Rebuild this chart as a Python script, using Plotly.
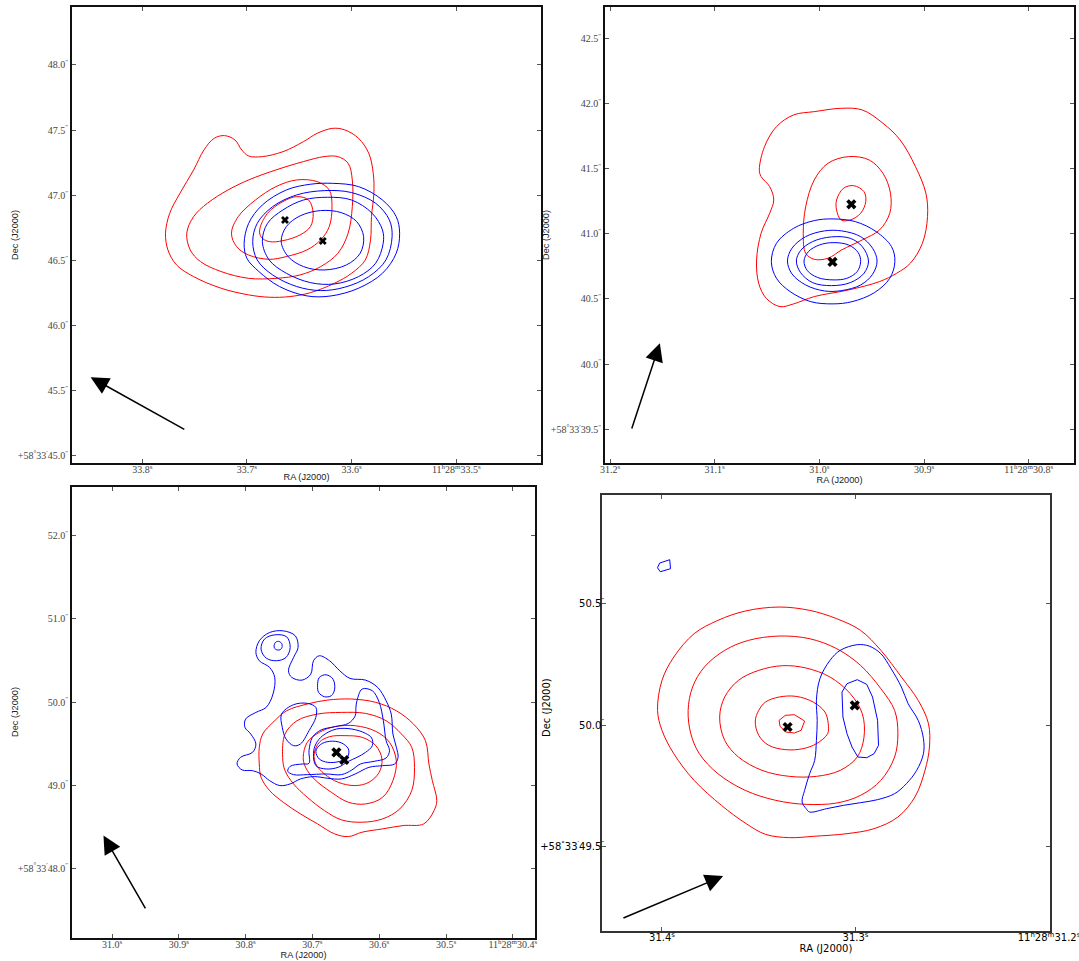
import plotly.graph_objects as go

# ---------------- Panel 1 (RA seconds of 11h28m, Dec arcsec of +58d33') ----------------
P1_RED_1 = [(33.7778,46.709),(33.7738,46.862),(33.7640,47.016),(33.7509,47.195),(33.7411,47.348),
            (33.7312,47.438),(33.7214,47.458),(33.7115,47.425),(33.7050,47.348),(33.6984,47.302),
            (33.6853,47.297),(33.6656,47.335),(33.6460,47.412),(33.6329,47.476),(33.6181,47.514),
            (33.6066,47.502),(33.5935,47.438),(33.5837,47.323),(33.5794,47.169),(33.5788,47.016),
            (33.5811,46.837),(33.5820,46.658),(33.5870,46.504),(33.6001,46.402),(33.6165,46.325),
            (33.6394,46.253),(33.6591,46.223),(33.6788,46.218),(33.6984,46.236),(33.7247,46.287),
            (33.7509,46.376),(33.7673,46.466),(33.7755,46.581)]
P1_RED_2 = [(33.7575,46.709),(33.7509,46.837),(33.7378,46.939),(33.7181,47.041),(33.6984,47.118),
            (33.6722,47.195),(33.6460,47.259),(33.6263,47.297),(33.6132,47.297),(33.6034,47.246),
            (33.5994,47.118),(33.5994,46.913),(33.6034,46.709),(33.6132,46.555),(33.6296,46.453),
            (33.6493,46.389),(33.6722,46.363),(33.6984,46.363),(33.7247,46.415),(33.7443,46.491),
            (33.7542,46.581)]
P1_RED_3 = [(33.7148,46.709),(33.7083,46.837),(33.6919,46.964),(33.6722,47.067),(33.6525,47.118),
            (33.6329,47.105),(33.6214,47.041),(33.6188,46.913),(33.6214,46.760),(33.6296,46.658),
            (33.6427,46.581),(33.6624,46.530),(33.6788,46.509),(33.6984,46.542),(33.7099,46.606)]
P1_RED_4 = [(33.6879,46.734),(33.6804,46.862),(33.6656,46.952),(33.6525,46.990),(33.6411,46.964),
            (33.6368,46.862),(33.6394,46.760),(33.6493,46.696),(33.6656,46.652),(33.6788,46.645),
            (33.6863,46.678)]
P1_BLUE_1 = [(33.7027,46.632),(33.6984,46.785),(33.6853,46.926),(33.6624,47.041),(33.6394,47.085),
             (33.6181,47.092),(33.5935,47.067),(33.5706,46.964),(33.5575,46.837),(33.5542,46.709),
             (33.5575,46.555),(33.5706,46.402),(33.5935,46.287),(33.6197,46.228),(33.6427,46.228),
             (33.6689,46.300),(33.6886,46.415),(33.7001,46.517)]
P1_BLUE_2 = [(33.6945,46.645),(33.6902,46.785),(33.6755,46.913),(33.6525,47.003),(33.6263,47.036),
             (33.6001,47.021),(33.5771,46.939),(33.5640,46.811),(33.5614,46.683),(33.5673,46.504),
             (33.5837,46.376),(33.6066,46.295),(33.6296,46.269),(33.6525,46.300),(33.6755,46.389),
             (33.6902,46.504)]
P1_BLUE_3 = [(33.6853,46.645),(33.6804,46.785),(33.6656,46.888),(33.6460,46.964),(33.6230,46.985),
             (33.6001,46.964),(33.5804,46.862),(33.5706,46.734),(33.5699,46.632),(33.5771,46.479),
             (33.5935,46.376),(33.6165,46.320),(33.6394,46.330),(33.6624,46.402),(33.6788,46.504)]
P1_BLUE_4 = [(33.6673,46.645),(33.6624,46.760),(33.6493,46.842),(33.6296,46.883),(33.6099,46.867),
             (33.5952,46.798),(33.5886,46.683),(33.5919,46.555),(33.6050,46.466),(33.6263,46.427),
             (33.6460,46.453),(33.6607,46.530)]
P1_SOURCES = [(33.6637,46.811),(33.6276,46.650)]
P1_ARROW = [(33.7584,45.197),(33.8493,45.604)]   # tail, head
P1_RA_TICKS = [33.8, 33.7, 33.6, 33.5]
P1_RA_TEXT = ["33.8<sup>s</sup>", "33.7<sup>s</sup>", "33.6<sup>s</sup>", "11<sup>h</sup>28<sup>m</sup>33.5<sup>s</sup>"]
P1_DEC_TICKS = [45.0, 45.5, 46.0, 46.5, 47.0, 47.5, 48.0]
P1_DEC_TEXT = ["+58<sup>°</sup>33<sup>′</sup>45.0<sup>″</sup>", "45.5<sup>″</sup>", "46.0<sup>″</sup>",
               "46.5<sup>″</sup>", "47.0<sup>″</sup>", "47.5<sup>″</sup>", "48.0<sup>″</sup>"]

# ---------------- Panel 2 ----------------
P2_RED_1 = [(31.0574,41.490),(31.0524,41.669),(31.0410,41.822),(31.0246,41.912),(31.0049,41.937),
            (30.9787,41.963),(30.9590,41.950),(30.9393,41.848),(30.9229,41.720),(30.9082,41.515),
            (30.8983,41.311),(30.8967,41.132),(30.9016,40.927),(30.9131,40.774),(30.9262,40.697),
            (30.9426,40.633),(30.9721,40.569),(31.0049,40.518),(31.0246,40.462),(31.0377,40.441),
            (31.0508,40.505),(31.0580,40.620),(31.0600,40.799),(31.0557,41.004),(31.0475,41.157),
            (31.0436,41.259),(31.0475,41.362),(31.0557,41.439)]
P2_RED_2 = [(31.0154,41.004),(31.0131,41.208),(31.0049,41.413),(30.9918,41.541),(30.9721,41.592),
            (30.9524,41.566),(30.9393,41.464),(30.9321,41.311),(30.9328,41.157),(30.9426,41.029),
            (30.9590,40.953),(30.9787,40.876),(30.9918,40.812),(31.0049,40.804),(31.0131,40.850)]
P2_RED_3 = [(30.9836,41.259),(30.9770,41.349),(30.9672,41.369),(30.9574,41.323),(30.9557,41.247),
            (30.9606,41.157),(30.9705,41.106),(30.9793,41.106),(30.9836,41.183)]
P2_BLUE_1 = [(31.0459,40.786),(31.0410,40.927),(31.0246,41.042),(31.0049,41.101),(30.9869,41.114),
             (30.9656,41.093),(30.9459,41.017),(30.9311,40.901),(30.9279,40.786),(30.9328,40.658),
             (30.9475,40.548),(30.9688,40.479),(30.9869,40.462),(31.0082,40.479),(31.0279,40.556),
             (31.0410,40.658)]
P2_BLUE_2 = [(31.0305,40.791),(31.0262,40.889),(31.0131,40.978),(30.9951,41.022),(30.9787,41.022),
             (30.9606,40.978),(30.9492,40.889),(30.9449,40.791),(30.9492,40.689),(30.9606,40.607),
             (30.9787,40.564),(30.9951,40.561),(31.0131,40.607),(31.0262,40.692)]
P2_BLUE_3 = [(31.0220,40.791),(31.0180,40.871),(31.0065,40.940),(30.9885,40.976),(30.9705,40.965),
             (30.9590,40.901),(30.9531,40.791),(30.9574,40.697),(30.9705,40.625),(30.9885,40.602),
             (31.0065,40.625),(31.0180,40.702)]
P2_BLUE_4 = [(31.0147,40.791),(31.0105,40.863),(31.0000,40.914),(30.9869,40.932),(30.9721,40.914),
             (30.9629,40.855),(30.9606,40.786),(30.9639,40.710),(30.9738,40.658),(30.9869,40.646),
             (31.0016,40.664),(31.0115,40.717)]
P2_SOURCES = [(30.9695,41.226),(30.9875,40.784)]
P2_ARROW = [(31.1797,39.495),(31.1524,40.160)]
P2_RA_TICKS = [31.2, 31.1, 31.0, 30.9, 30.8]
P2_RA_TEXT = ["31.2<sup>s</sup>", "31.1<sup>s</sup>", "31.0<sup>s</sup>", "30.9<sup>s</sup>",
              "11<sup>h</sup>28<sup>m</sup>30.8<sup>s</sup>"]
P2_DEC_TICKS = [39.5, 40.0, 40.5, 41.0, 41.5, 42.0, 42.5]
P2_DEC_TEXT = ["+58<sup>°</sup>33<sup>′</sup>39.5<sup>″</sup>", "40.0<sup>″</sup>", "40.5<sup>″</sup>",
               "41.0<sup>″</sup>", "41.5<sup>″</sup>", "42.0<sup>″</sup>", "42.5<sup>″</sup>"]

# ---------------- Panel 3 ----------------
P3_RED_1 = [(30.7795,49.455),(30.7744,49.615),(30.7590,49.755),(30.7385,49.895),(30.7077,49.976),
            (30.6769,50.024),(30.6410,50.036),(30.6051,49.996),(30.5744,49.895),(30.5487,49.735),
            (30.5308,49.535),(30.5256,49.254),(30.5205,49.054),(30.5138,48.813),(30.5179,48.693),
            (30.5333,48.533),(30.5641,48.513),(30.5949,48.473),(30.6256,48.433),(30.6461,48.380),
            (30.6667,48.412),(30.6923,48.533),(30.7179,48.653),(30.7436,48.793),(30.7641,48.934),
            (30.7769,49.094),(30.7795,49.254)]
P3_RED_2 = [(30.7446,49.334),(30.7410,49.615),(30.7231,49.775),(30.6923,49.855),(30.6564,49.875),
            (30.6205,49.863),(30.5897,49.775),(30.5667,49.615),(30.5513,49.455),(30.5472,49.214),
            (30.5513,48.934),(30.5692,48.713),(30.5949,48.593),(30.6256,48.553),(30.6564,48.581),
            (30.6820,48.693),(30.7077,48.853),(30.7282,49.014),(30.7410,49.174)]
P3_RED_3 = [(30.7138,49.334),(30.7077,49.515),(30.6897,49.635),(30.6667,49.703),(30.6359,49.715),
            (30.6051,49.647),(30.5846,49.515),(30.5744,49.294),(30.5795,49.054),(30.5949,48.853),
            (30.6205,48.773),(30.6461,48.793),(30.6718,48.914),(30.6974,49.074),(30.7103,49.214)]
P3_RED_4 = [(30.6974,49.374),(30.6897,49.515),(30.6743,49.583),(30.6513,49.595),(30.6256,49.575),
            (30.6051,49.475),(30.5959,49.314),(30.6000,49.154),(30.6154,49.034),(30.6359,48.994),
            (30.6615,49.034),(30.6820,49.134),(30.6949,49.254)]
P3_BLUE_1 = [(30.7846,50.597),(30.7795,50.737),(30.7641,50.837),(30.7436,50.857),(30.7256,50.797),
             (30.7215,50.657),(30.7282,50.537),(30.7359,50.376),(30.7308,50.296),(30.7154,50.264),
             (30.7025,50.336),(30.6984,50.497),(30.6897,50.557),(30.6743,50.497),(30.6590,50.376),
             (30.6436,50.284),(30.6205,50.264),(30.6023,50.176),(30.5897,50.016),(30.5820,49.855),
             (30.5795,49.615),(30.5743,49.455),(30.5718,49.334),(30.5769,49.254),(30.5949,49.234),
             (30.6154,49.214),(30.6359,49.134),(30.6564,49.074),(30.6769,49.082),(30.6974,49.102),
             (30.7179,49.074),(30.7333,49.014),(30.7487,48.994),(30.7641,49.054),(30.7769,49.134),
             (30.7897,49.174),(30.8051,49.182),(30.8128,49.254),(30.8077,49.334),(30.7897,49.394),
             (30.7846,49.495),(30.7923,49.615),(30.8010,49.695),(30.8000,49.795),(30.7846,49.875),
             (30.7692,49.936),(30.7590,50.096),(30.7564,50.296),(30.7641,50.417),(30.7795,50.497)]
P3_BLUE_2 = [(30.7769,50.637),(30.7718,50.757),(30.7564,50.809),(30.7385,50.785),(30.7333,50.657),
             (30.7395,50.537),(30.7538,50.497),(30.7692,50.529)]
P3_BLUE_3 = [(30.7574,50.677),(30.7549,50.721),(30.7497,50.729),(30.7456,50.697),(30.7462,50.645),
             (30.7513,50.625),(30.7564,50.645)]
P3_BLUE_4 = [(30.6923,50.196),(30.6897,50.296),(30.6795,50.328),(30.6692,50.276),(30.6667,50.156),
             (30.6718,50.076),(30.6820,50.064),(30.6907,50.116)]
P3_BLUE_5 = [(30.7462,49.855),(30.7282,49.968),(30.7077,49.984),(30.6949,49.936),(30.6949,49.815),
             (30.7051,49.655),(30.7179,49.495),(30.7282,49.475),(30.7395,49.555),(30.7451,49.695)]
P3_BLUE_6 = [(30.6333,50.016),(30.6256,50.156),(30.6103,50.136),(30.6000,49.996),(30.5938,49.775),
             (30.5897,49.535),(30.5846,49.415),(30.5897,49.326),(30.6077,49.286),(30.6282,49.254),
             (30.6410,49.182),(30.6564,49.126),(30.6795,49.134),(30.7077,49.126),(30.7282,49.126),
             (30.7369,49.166),(30.7333,49.226),(30.7154,49.254),(30.7051,49.262),(30.7051,49.415),
             (30.7000,49.575),(30.6872,49.663),(30.6667,49.703),(30.6461,49.743),(30.6359,49.835),
             (30.6349,49.936)]
P3_BLUE_7 = [(30.6948,49.495),(30.6846,49.595),(30.6641,49.675),(30.6410,49.675),(30.6205,49.623),
             (30.6113,49.567),(30.6103,49.475),(30.6205,49.394),(30.6333,49.334),(30.6461,49.286),
             (30.6615,49.214),(30.6795,49.194),(30.6948,49.234),(30.6984,49.382)]
P3_BLUE_8 = [(30.6948,49.406),(30.6882,49.487),(30.6743,49.527),(30.6574,49.511),(30.6461,49.435),
             (30.6472,49.342),(30.6590,49.286),(30.6769,49.274),(30.6897,49.314)]
P3_SOURCES = [(30.6641,49.394),(30.6523,49.302)]
P3_ARROW = [(30.9487,47.499),(31.0128,48.392)]
P3_RA_TICKS = [31.0, 30.9, 30.8, 30.7, 30.6, 30.5, 30.4]
P3_RA_TEXT = ["31.0<sup>s</sup>", "30.9<sup>s</sup>", "30.8<sup>s</sup>", "30.7<sup>s</sup>",
              "30.6<sup>s</sup>", "30.5<sup>s</sup>", "11<sup>h</sup>28<sup>m</sup>30.4<sup>s</sup>"]
P3_DEC_TICKS = [48.0, 49.0, 50.0, 51.0, 52.0]
P3_DEC_TEXT = ["+58<sup>°</sup>33<sup>′</sup>48.0<sup>″</sup>", "49.0<sup>″</sup>", "50.0<sup>″</sup>",
               "51.0<sup>″</sup>", "52.0<sup>″</sup>"]

# ---------------- Panel 4 ----------------
P4_RED_1 = [(31.4023,50.0604),(31.4000,50.1840),(31.3939,50.2802),(31.3834,50.3763),(31.3711,50.4313),
            (31.3570,50.4697),(31.3395,50.4862),(31.3237,50.4725),(31.3097,50.4381),(31.2974,50.3901),
            (31.2869,50.3077),(31.2763,50.1978),(31.2676,50.1016),(31.2623,50.0055),(31.2618,49.9093),
            (31.2641,49.8131),(31.2693,49.7033),(31.2781,49.6208),(31.2904,49.5728),(31.3044,49.5522),
            (31.3219,49.5412),(31.3342,49.5357),(31.3465,49.5494),(31.3570,49.5961),(31.3693,49.6689),
            (31.3834,49.7719),(31.3939,49.8818),(31.4000,49.9780)]
P4_RED_2 = [(31.3865,50.0604),(31.3842,50.1566),(31.3781,50.2390),(31.3676,50.3077),(31.3553,50.3489),
            (31.3395,50.3667),(31.3237,50.3557),(31.3097,50.3145),(31.2974,50.2458),(31.2869,50.1497),
            (31.2798,50.0604),(31.2781,49.9642),(31.2798,49.8681),(31.2869,49.7719),(31.2974,49.7101),
            (31.3097,49.6785),(31.3255,49.6730),(31.3412,49.6895),(31.3570,49.7307),(31.3711,49.7994),
            (31.3807,49.8818),(31.3851,49.9642)]
P4_RED_3 = [(31.3702,50.0329),(31.3676,50.1153),(31.3605,50.1840),(31.3500,50.2252),(31.3377,50.2445),
            (31.3255,50.2348),(31.3132,50.1978),(31.3027,50.1291),(31.2965,50.0467),(31.2956,49.9505),
            (31.2991,49.8681),(31.3079,49.8131),(31.3202,49.7884),(31.3342,49.7884),(31.3483,49.8131),
            (31.3605,49.8681),(31.3676,49.9368)]
P4_RED_4 = [(31.3518,50.0164),(31.3500,50.0604),(31.3465,50.0947),(31.3395,50.1153),(31.3307,50.1181),
            (31.3219,50.0947),(31.3158,50.0535),(31.3141,50.0055),(31.3144,49.9642),(31.3202,49.9230),
            (31.3272,49.9024),(31.3360,49.8983),(31.3448,49.9162),(31.3500,49.9574)]
P4_RED_5 = [(31.3395,50.0192),(31.3363,50.0398),(31.3316,50.0425),(31.3263,50.0164),(31.3281,49.9780),
            (31.3316,49.9670),(31.3360,49.9711),(31.3390,49.9945)]
P4_BLUE_1 = [(31.3184,50.1909),(31.3132,50.2664),(31.3079,50.3077),(31.2991,50.3310),(31.2930,50.3255),
             (31.2869,50.2939),(31.2816,50.2321),(31.2763,50.1566),(31.2728,50.0879),(31.2676,50.0192),
             (31.2649,49.9436),(31.2649,49.8818),(31.2684,49.8131),(31.2737,49.7582),(31.2798,49.7170),
             (31.2886,49.6923),(31.2974,49.6799),(31.3062,49.6689),(31.3149,49.6552),(31.3237,49.6414),
             (31.3255,49.6552),(31.3276,49.6827),(31.3263,49.7307),(31.3237,49.7994),(31.3211,49.8544),
             (31.3202,49.9368),(31.3198,50.0192),(31.3202,50.1016)]
P4_BLUE_2 = [(31.3070,50.1359),(31.3044,50.1703),(31.2991,50.1868),(31.2942,50.1675),(31.2912,50.1153),
             (31.2886,50.0192),(31.2881,49.9162),(31.2904,49.8818),(31.2942,49.8653),(31.2988,49.8681),
             (31.3018,49.9093),(31.3044,49.9642),(31.3065,50.0329)]
P4_BLUE_3 = [(31.4023,50.6483),(31.4012,50.6675),(31.3960,50.6813),(31.3956,50.6442),(31.4009,50.6318)]
P4_SOURCES = [(31.3351,49.9917),(31.3004,50.0810)]
P4_ARROW = [(31.4207,49.2019),(31.3684,49.3777)]
P4_RA_TICKS = [31.4, 31.3, 31.2]
P4_RA_TEXT = ["31.4<sup>s</sup>", "31.3<sup>s</sup>", "11<sup>h</sup>28<sup>m</sup>31.2<sup>s</sup>"]
P4_DEC_TICKS = [49.5, 50.0, 50.5]
P4_DEC_TEXT = ["+58<sup>°</sup>33<sup>′</sup>49.5<sup>″</sup>", "50.0<sup>″</sup>", "50.5<sup>″</sup>"]

W, H = 1079, 961
fig = go.Figure()


def add_contour(pts, color, xa, ya, smooth=True):
    xs = [p[0] for p in pts] + [pts[0][0]]
    ys = [p[1] for p in pts] + [pts[0][1]]
    fig.add_trace(go.Scatter(x=xs, y=ys, mode="lines", xaxis=xa, yaxis=ya,
                             line=dict(color=color, width=1, shape="spline" if smooth else "linear",
                                       smoothing=1.0),
                             hoverinfo="skip", showlegend=False))


def add_sources(pts, xa, ya, size):
    fig.add_trace(go.Scatter(x=[p[0] for p in pts], y=[p[1] for p in pts], mode="markers",
                             xaxis=xa, yaxis=ya, hoverinfo="skip", showlegend=False,
                             marker=dict(symbol="x", size=size, color="black",
                                         line=dict(width=0))))


panels = [
    ("x", "y", [P1_RED_1, P1_RED_2, P1_RED_3, P1_RED_4], [P1_BLUE_1, P1_BLUE_2, P1_BLUE_3, P1_BLUE_4], [], P1_SOURCES, P1_ARROW, 7),
    ("x2", "y2", [P2_RED_1, P2_RED_2, P2_RED_3], [P2_BLUE_1, P2_BLUE_2, P2_BLUE_3, P2_BLUE_4], [], P2_SOURCES, P2_ARROW, 9),
    ("x3", "y3", [P3_RED_1, P3_RED_2, P3_RED_3, P3_RED_4],
     [P3_BLUE_1, P3_BLUE_2, P3_BLUE_3, P3_BLUE_4, P3_BLUE_5, P3_BLUE_6, P3_BLUE_7, P3_BLUE_8], [], P3_SOURCES, P3_ARROW, 9),
    ("x4", "y4", [P4_RED_1, P4_RED_2, P4_RED_3, P4_RED_4], [P4_BLUE_1], [P4_RED_5, P4_BLUE_2, P4_BLUE_3], P4_SOURCES, P4_ARROW, 9),
]

annotations = []
for xa, ya, reds, blues, polys, srcs, arrow, msize in panels:
    for c in reds:
        add_contour(c, "#ff0000", xa, ya)
    for c in blues:
        add_contour(c, "#0000ff", xa, ya)
    for i, c in enumerate(polys):
        add_contour(c, "#ff0000" if (xa == "x4" and i == 0) else "#0000ff", xa, ya, smooth=False)
    add_sources(srcs, xa, ya, msize)
    annotations.append(dict(x=arrow[1][0], y=arrow[1][1], ax=arrow[0][0], ay=arrow[0][1],
                            xref=xa, yref=ya, axref=xa, ayref=ya, text="", showarrow=True,
                            arrowhead=2, arrowsize=2.4, arrowwidth=1.5, arrowcolor="black"))

serif = dict(family="Liberation Serif", size=10, color="#444444")
sans_t = dict(family="Liberation Sans", size=9.2, color="#222222")
dv_tick = dict(family="DejaVu Sans", size=10, color="#000000")
dv_t = dict(family="DejaVu Sans", size=10, color="#000000")

# Dec axis titles placed as rotated text beside each panel
for px, py, f in [(15, 235, sans_t), (546, 235, sans_t), (15, 712, sans_t), (546, 708, dv_t)]:
    annotations.append(dict(x=px / W, y=1 - py / H, xref="paper", yref="paper", text="Dec (J2000)",
                            showarrow=False, textangle=-90, xanchor="center", yanchor="middle", font=f))


def xaxis(domain, rng, tv, tt, tf, titf, anchor, lw, lc, lso, tso):
    return dict(domain=domain, range=rng, tickmode="array", tickvals=tv, ticktext=tt, tickfont=tf,
                showgrid=False, zeroline=False, showline=True, linecolor=lc, linewidth=lw,
                mirror="ticks", ticks="inside", ticklen=4, tickwidth=1, tickcolor="#555555",
                automargin=False, ticklabelstandoff=lso, ticklabeloverflow="allow",
                anchor=anchor, title=dict(text="RA (J2000)", font=titf, standoff=tso))


def yaxis(domain, rng, tv, tt, tf, anchor, lw, lc, lso):
    return dict(domain=domain, range=rng, tickmode="array", tickvals=tv, ticktext=tt, tickfont=tf,
                showgrid=False, zeroline=False, showline=True, linecolor=lc, linewidth=lw,
                mirror="ticks", ticks="inside", ticklen=4, tickwidth=1, tickcolor="#555555",
                automargin=False, ticklabelstandoff=lso, ticklabeloverflow="allow",
                anchor=anchor)


fig.update_layout(
    width=W, height=H, margin=dict(l=0, r=0, t=0, b=0, autoexpand=False),
    paper_bgcolor="white", plot_bgcolor="white", showlegend=False,
    xaxis=xaxis([72 / W, 541 / W], [33.8671, 33.4192], P1_RA_TICKS, P1_RA_TEXT, serif, sans_t, "y", 1.5, "#111111", -4, 0),
    yaxis=yaxis([1 - 463 / H, 1 - 7 / H], [44.946, 48.445], P1_DEC_TICKS, P1_DEC_TEXT, serif, "x", 1.5, "#111111", 0),
    xaxis2=xaxis([605 / W, 1074 / W], [31.2048, 30.7568], P2_RA_TICKS, P2_RA_TEXT, serif, sans_t, "y2", 1.5, "#111111", -4, 0),
    yaxis2=yaxis([1 - 463 / H, 1 - 7 / H], [39.241, 42.74], P2_DEC_TICKS, P2_DEC_TEXT, serif, "x2", 1.5, "#111111", 0),
    xaxis3=xaxis([72 / W, 535 / W], [31.0599, 30.3668], P3_RA_TICKS, P3_RA_TEXT, serif, sans_t, "y3", 1.5, "#111111", -4, 0),
    yaxis3=yaxis([1 - 938 / H, 1 - 487 / H], [47.159, 52.589], P3_DEC_TICKS, P3_DEC_TEXT, serif, "x3", 1.5, "#111111", 0),
    xaxis4=xaxis([602 / W, 1050 / W], [31.4310, 31.1995], P4_RA_TICKS, P4_RA_TEXT, dv_tick, dv_t, "y4", 2, "#333333", -4, 0),
    yaxis4=yaxis([1 - 931 / H, 1 - 495 / H], [49.151, 50.948], P4_DEC_TICKS, P4_DEC_TEXT, dv_tick, "x4", 2, "#333333", -6),
    annotations=annotations,
)

fig.write_html("out.html")
